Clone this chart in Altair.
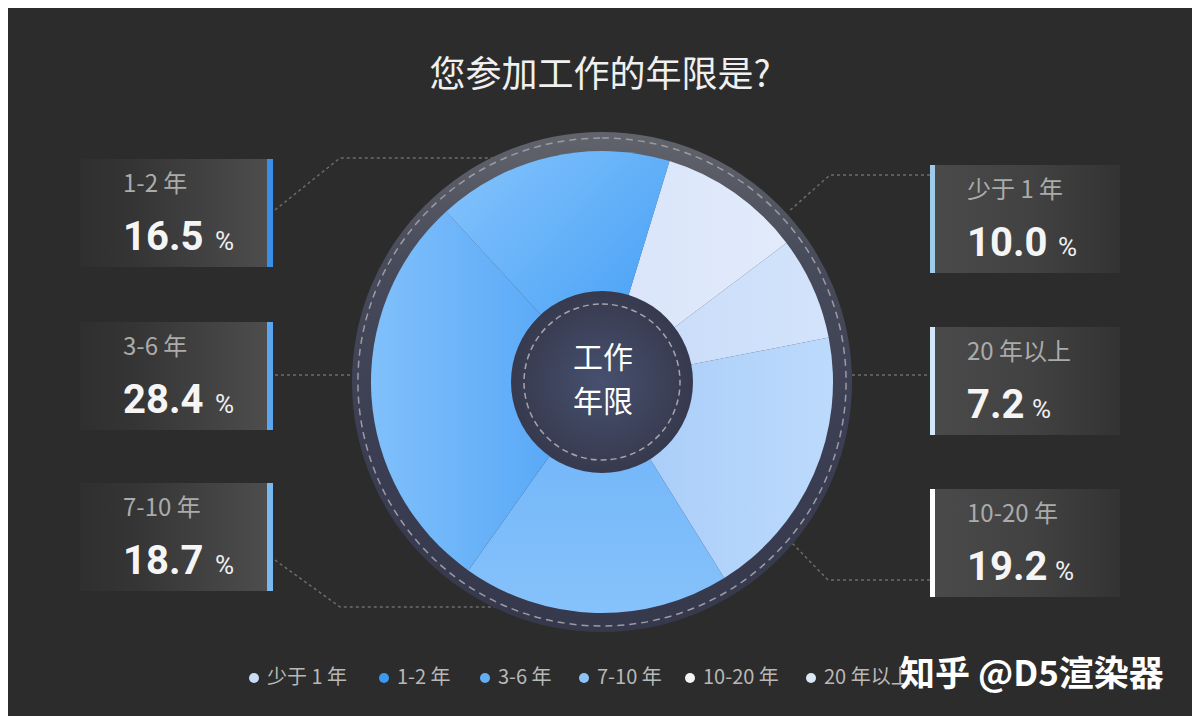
import math
import altair as alt
import pandas as pd

# ---------------- data ----------------
categories = ["少于 1 年", "1-2 年", "3-6 年", "7-10 年", "10-20 年", "20 年以上"]
shares = [10.0, 16.5, 28.4, 18.7, 19.2, 7.2]
# clockwise order of the slices, starting just right of 12 o'clock
pie_order = ["少于 1 年", "20 年以上", "10-20 年", "7-10 年", "3-6 年", "1-2 年"]
title_text = "您参加工作的年限是?"
center_lines = ["工作", "年限"]
watermark = "知乎 @D5渲染器"

# ---------------- layout / style ----------------
W, H, OFF = 1184, 708, 8
CX, CY = 602, 382
START = math.radians(17)
CJK = "Noto Sans CJK SC"

side = {"少于 1 年": "R", "1-2 年": "L", "3-6 年": "L", "7-10 年": "L", "10-20 年": "R", "20 年以上": "R"}
box_top = {"少于 1 年": 165, "1-2 年": 159, "3-6 年": 322, "7-10 年": 483, "10-20 年": 489, "20 年以上": 327}
pct_x = {"少于 1 年": 1058, "1-2 年": 215, "3-6 年": 215, "7-10 年": 215, "10-20 年": 1055, "20 年以上": 1032}
bar_color = {"少于 1 年": "#9fcbeb", "1-2 年": "#3a8fe8", "3-6 年": "#5ba6ee",
             "7-10 年": "#7ab8f0", "10-20 年": "#ffffff", "20 年以上": "#d2e6f8"}
legend_dot_x = {"少于 1 年": 254, "1-2 年": 384, "3-6 年": 485, "7-10 年": 584, "10-20 年": 690, "20 年以上": 811}
legend_color = {"少于 1 年": "#c9def6", "1-2 年": "#3a9af0", "3-6 年": "#62aff5",
                "7-10 年": "#8cc4f8", "10-20 年": "#f4f4f4", "20 年以上": "#dbe8f6"}


def lin(stops, x1=0, y1=0, x2=1, y2=0):
    return {"gradient": "linear", "x1": x1, "y1": y1, "x2": x2, "y2": y2,
            "stops": [{"offset": o, "color": c} for o, c in stops]}


slice_fill = {
    "少于 1 年": lin([(0, "#d8e4fa"), (1, "#e2ebfb")], 0, 0, 1, 0),
    "20 年以上": lin([(0, "#c7dbf8"), (1, "#d3e3fb")], 0, 0, 1, 0),
    "10-20 年": lin([(0, "#a6cbf8"), (1, "#bcdafc")], 0, 0, 1, 0),
    "7-10 年": lin([(0, "#6db2f8"), (1, "#86c2fb")], 0, 0, 0, 1),
    "3-6 年": lin([(0, "#80c0fb"), (1, "#4fa2f6")], 0, 0, 1, 0),
    "1-2 年": lin([(0, "#86c4fc"), (1, "#3d9bf5")], 0, 0, 1, 1),
}

xs = alt.Scale(domain=[OFF, W + OFF], nice=False, zero=False)
ys = alt.Scale(domain=[OFF, H + OFF], nice=False, zero=False, reverse=True)


def X(f):
    return alt.X(f, type="quantitative", scale=xs, axis=None)


def Y(f):
    return alt.Y(f, type="quantitative", scale=ys, axis=None)


# ---------------- tables ----------------
rows = []
for c, v in zip(categories, shares):
    s = side[c]
    t = box_top[c]
    rows.append(dict(
        cat=c, value=f"{v:.1f}", side=s,
        bx0=80 if s == "L" else 935, bx1=268 if s == "L" else 1120,
        bar0=267 if s == "L" else 930, bar1=273 if s == "L" else 935,
        y0=t, y1=t + 108, tx=123 if s == "L" else 967,
        ly=t + 26, vy=t + 91, px=pct_x[c],
        lgx=legend_dot_x[c], lgtx=legend_dot_x[c] + 13, lgy=678,
    ))
boxes = pd.DataFrame(rows)

acc = 0.0
pie_rows = []
for c in pie_order:
    v = shares[categories.index(c)]
    pie_rows.append(dict(cat=c, t0=acc, t1=acc + v))
    acc += v
pie_df = pd.DataFrame(pie_rows)

lines = [
    ("L1", [(275, 210), (340, 158), (495, 158)]),
    ("L2", [(275, 375), (352, 375)]),
    ("L3", [(275, 560), (340, 607), (495, 607)]),
    ("R1", [(930, 175), (830, 175), (788, 212)]),
    ("R2", [(852, 375), (930, 375)]),
    ("R3", [(930, 580), (828, 580), (792, 543)]),
]
line_df = pd.DataFrame([dict(id=i, k=k, x=p[0], y=p[1]) for i, pts in lines for k, p in enumerate(pts)])

texts_df = pd.DataFrame([dict(t=title_text, x=600, y=76)])
center_df = pd.DataFrame([dict(t=center_lines[0], x=CX + 1, y=359), dict(t=center_lines[1], x=CX + 1, y=403)])
wm_df = pd.DataFrame([dict(t=watermark, x=900, y=675)])
one = pd.DataFrame([{"a": 0}])

layers = []

# label boxes
left_grad = lin([(0, "#2f2f2f"), (0.3, "#353535"), (1, "#4d4d4d")])
right_grad = lin([(0, "#4a4a4a"), (0.55, "#414141"), (1, "#333333")])
layers.append(alt.Chart(boxes).transform_filter(alt.datum.side == "L").mark_rect(fill=left_grad)
              .encode(x=X("bx0"), x2="bx1", y=Y("y0"), y2="y1"))
layers.append(alt.Chart(boxes).transform_filter(alt.datum.side == "R").mark_rect(fill=right_grad)
              .encode(x=X("bx0"), x2="bx1", y=Y("y0"), y2="y1"))
layers.append(alt.Chart(boxes).mark_rect().encode(
    x=X("bar0"), x2="bar1", y=Y("y0"), y2="y1",
    color=alt.Color("cat:N", scale=alt.Scale(domain=categories, range=[bar_color[c] for c in categories]), legend=None)))

# connector lines
layers.append(alt.Chart(line_df).mark_line(stroke="#6c6c6c", strokeWidth=1.5, strokeDash=[3, 3]).encode(
    x=X("x"), y=Y("y"), detail="id:N", order="k:Q"))

cx, cy = alt.value(CX - OFF), alt.value(CY - OFF)
ring_grad = lin([(0, "#62646c"), (0.25, "#484b5a"), (0.6, "#3c3f53"), (1, "#36394c")], 0, 0, 0, 1)
layers.append(alt.Chart(one).mark_arc(theta=0, theta2=2 * math.pi, outerRadius=250, innerRadius=0, fill=ring_grad)
              .encode(x=cx, y=cy))
layers.append(alt.Chart(one).mark_arc(theta=0, theta2=2 * math.pi, outerRadius=244, innerRadius=0,
                                      fill="transparent", stroke="#9b9ba5", strokeWidth=1.5, strokeDash=[7, 5])
              .encode(x=cx, y=cy))

theta_scale = alt.Scale(domain=[0, 100], range=[START, START + 2 * math.pi])
for c in pie_order:
    layers.append(alt.Chart(pie_df).transform_filter(alt.datum.cat == c)
                  .mark_arc(outerRadius=231, innerRadius=0, fill=slice_fill[c])
                  .encode(theta=alt.Theta("t0:Q", scale=theta_scale), theta2="t1:Q", x=cx, y=cy))

center_grad = {"gradient": "radial", "x1": 0.5, "y1": 0.5, "r1": 0, "x2": 0.5, "y2": 0.5, "r2": 0.5,
               "stops": [{"offset": 0, "color": "#46506f"}, {"offset": 1, "color": "#373a4e"}]}
layers.append(alt.Chart(one).mark_arc(theta=0, theta2=2 * math.pi, outerRadius=91, innerRadius=0, fill=center_grad)
              .encode(x=cx, y=cy))
layers.append(alt.Chart(one).mark_arc(theta=0, theta2=2 * math.pi, outerRadius=78, innerRadius=0,
                                      fill="transparent", stroke="#a5a5ae", strokeWidth=1.5, strokeDash=[6, 4])
              .encode(x=cx, y=cy))

# texts
layers.append(alt.Chart(texts_df).mark_text(font=CJK, fontSize=36, color="#f0f0f0", align="center", baseline="middle")
              .encode(x=X("x"), y=Y("y"), text="t:N"))
layers.append(alt.Chart(center_df).mark_text(font=CJK, fontSize=30, color="#ffffff", align="center", baseline="middle")
              .encode(x=X("x"), y=Y("y"), text="t:N"))
layers.append(alt.Chart(boxes).mark_text(font=CJK, fontSize=24, color="#ababab", align="left", baseline="middle")
              .encode(x=X("tx"), y=Y("ly"), text="cat:N"))
layers.append(alt.Chart(boxes).mark_text(font="Roboto", fontSize=40, fontWeight="bold", color="#f5f5f5",
                                         align="left", baseline="alphabetic")
              .encode(x=X("tx"), y=Y("vy"), text="value:N"))
layers.append(alt.Chart(boxes).mark_text(font="Roboto", fontSize=26, color="#f0f0f0", align="left", baseline="alphabetic")
              .encode(x=X("px"), y=Y("vy"), text=alt.value("%")))

# legend
layers.append(alt.Chart(boxes).mark_circle(size=100, opacity=1).encode(
    x=X("lgx"), y=Y("lgy"),
    color=alt.Color("cat:N", scale=alt.Scale(domain=categories, range=[legend_color[c] for c in categories]), legend=None)))
layers.append(alt.Chart(boxes).mark_text(font=CJK, fontSize=20, color="#b8b8b8", align="left", baseline="middle")
              .encode(x=X("lgtx"), y=Y("lgy"), text="cat:N"))

# watermark
layers.append(alt.Chart(wm_df).mark_text(font=CJK, fontSize=35, fontWeight="bold", color="#ffffff",
                                         align="left", baseline="middle")
              .encode(x=X("x"), y=Y("y"), text="t:N"))

chart = alt.layer(*layers).resolve_scale(color="independent").properties(
    width=W, height=H, background="#2c2c2c", padding=0,
    autosize=alt.AutoSizeParams(type="none"),
).configure_view(stroke=None)

chart.save("out.html", embed_options={"renderer": "svg", "actions": False})
